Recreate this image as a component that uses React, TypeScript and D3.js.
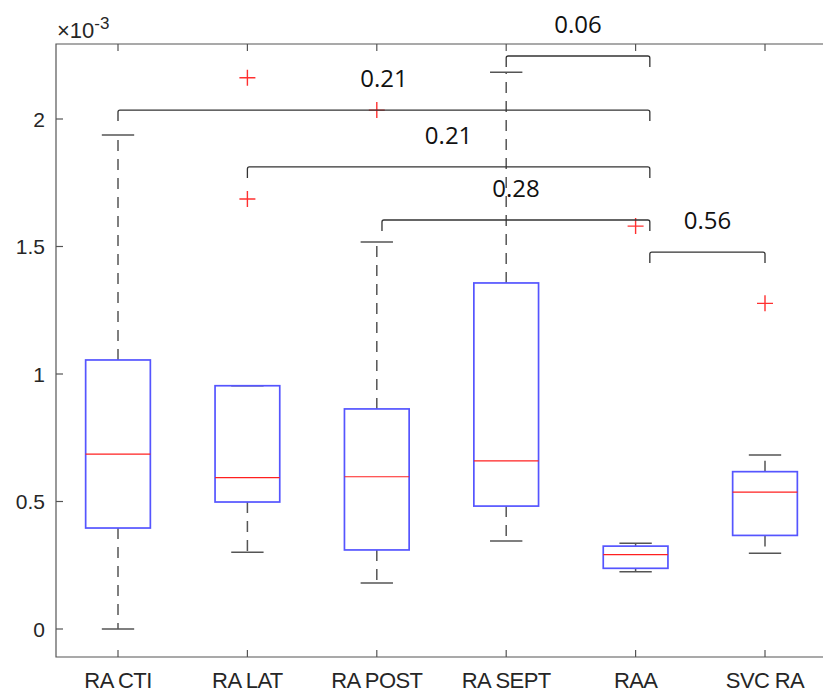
import React, { useEffect, useRef } from 'react';
import * as d3 from 'd3';

// box plot summary per group, values in units of 1e-3
const categories = ['RA CTI', 'RA LAT', 'RA POST', 'RA SEPT', 'RAA', 'SVC RA'];
const whiskerLow = [0.0, 0.301, 0.18, 0.345, 0.225, 0.297];
const q1 = [0.396, 0.498, 0.31, 0.482, 0.238, 0.367];
const medians = [0.686, 0.594, 0.597, 0.659, 0.292, 0.537];
const q3 = [1.055, 0.954, 0.863, 1.357, 0.325, 0.617];
const whiskerHigh = [1.937, 0.954, 1.518, 2.183, 0.336, 0.682];
const outliers: number[][] = [[], [2.162, 1.686], [2.035], [], [1.58], [1.277]];

// significance brackets (positions on the category axis) and p-values
const bracketFrom = [4, 1, 2, 3.04, 5.11];
const bracketTo = [5.11, 5.11, 5.11, 5.11, 6];
const bracketLevel = [2.247, 2.035, 1.812, 1.604, 1.478];
const bracketLabel = ['0.06', '0.21', '0.21', '0.28', '0.56'];

const yTicks = [0, 0.5, 1, 1.5, 2];

export default function App() {
    const ref = useRef<SVGSVGElement>(null);

    useEffect(() => {
        const svg = d3.select(ref.current);
        svg.selectAll('*').remove();

        const x = d3.scaleLinear().domain([1, 6]).range([118, 765]);
        const y = d3.scaleLinear().domain([0, 2]).range([629, 119]);
        const left = 56, top = 44, bottom = 657, right = 830;
        const axisColor = '#555';
        const font = 'Liberation Sans, Arial, sans-serif';

        // axes box
        svg.append('path')
            .attr('d', `M${right},${top}H${left}V${bottom}H${right}`)
            .attr('fill', 'none')
            .attr('stroke', axisColor)
            .attr('stroke-width', 1.2);

        // y ticks + labels
        const yt = svg.append('g');
        yTicks.forEach(t => {
            yt.append('line')
                .attr('x1', left).attr('x2', left + 7)
                .attr('y1', y(t)).attr('y2', y(t))
                .attr('stroke', axisColor).attr('stroke-width', 1.2);
            yt.append('text')
                .attr('x', left - 11).attr('y', y(t))
                .attr('dy', '0.36em')
                .attr('text-anchor', 'end')
                .attr('font-family', font)
                .attr('font-size', 21)
                .attr('fill', '#262626')
                .text(String(t));
        });

        // exponent label
        const ex = svg.append('text')
            .attr('x', left + 1).attr('y', 38)
            .attr('font-family', font)
            .attr('font-size', 22)
            .attr('fill', '#262626');
        ex.append('tspan').text('\u00d710');
        ex.append('tspan').attr('dy', -9).attr('font-size', 17).text('-3');

        // x ticks + labels
        categories.forEach((c, i) => {
            const cx = x(i + 1);
            svg.append('line')
                .attr('x1', cx).attr('x2', cx)
                .attr('y1', bottom).attr('y2', bottom - 7)
                .attr('stroke', axisColor).attr('stroke-width', 1.2);
            svg.append('line')
                .attr('x1', cx).attr('x2', cx)
                .attr('y1', top).attr('y2', top + 7)
                .attr('stroke', axisColor).attr('stroke-width', 1.2);
            svg.append('text')
                .attr('x', cx).attr('y', 688)
                .attr('text-anchor', 'middle')
                .attr('font-family', font)
                .attr('font-size', 22)
                .attr('letter-spacing', -0.6)
                .attr('fill', '#262626')
                .text(c);
        });

        // boxes
        const halfBox = 0.25, halfCap = 0.125;
        categories.forEach((_, i) => {
            const pos = i + 1;
            const g = svg.append('g');
            const whisk = '#555';
            // whiskers (dashed)
            g.append('line')
                .attr('x1', x(pos)).attr('x2', x(pos))
                .attr('y1', y(q3[i])).attr('y2', y(whiskerHigh[i]))
                .attr('stroke', whisk).attr('stroke-width', 1.5)
                .attr('stroke-dasharray', '11,8');
            g.append('line')
                .attr('x1', x(pos)).attr('x2', x(pos))
                .attr('y1', y(q1[i])).attr('y2', y(whiskerLow[i]))
                .attr('stroke', whisk).attr('stroke-width', 1.5)
                .attr('stroke-dasharray', '11,8');
            // caps
            [whiskerHigh[i], whiskerLow[i]].forEach(v => {
                g.append('line')
                    .attr('x1', x(pos - halfCap)).attr('x2', x(pos + halfCap))
                    .attr('y1', y(v)).attr('y2', y(v))
                    .attr('stroke', whisk).attr('stroke-width', 1.5);
            });
            // box
            g.append('rect')
                .attr('x', x(pos - halfBox))
                .attr('y', y(q3[i]))
                .attr('width', x(pos + halfBox) - x(pos - halfBox))
                .attr('height', y(q1[i]) - y(q3[i]))
                .attr('fill', 'none')
                .attr('stroke', '#5555ff')
                .attr('stroke-width', 1.7);
            // median
            g.append('line')
                .attr('x1', x(pos - halfBox)).attr('x2', x(pos + halfBox))
                .attr('y1', y(medians[i])).attr('y2', y(medians[i]))
                .attr('stroke', '#ff2020').attr('stroke-width', 1.2);
            // outliers
            outliers[i].forEach(v => {
                g.append('path')
                    .attr('d', `M${x(pos) - 8},${y(v)}h16M${x(pos)},${y(v) - 8}v16`)
                    .attr('stroke', '#ff3030')
                    .attr('stroke-width', 1.4)
                    .attr('fill', 'none');
            });
        });

        // significance brackets
        bracketLabel.forEach((lab, i) => {
            const x1 = x(bracketFrom[i]), x2 = x(bracketTo[i]);
            const by = y(bracketLevel[i]);
            svg.append('path')
                .attr('d', `M${x1},${by + 11}V${by + 2}Q${x1},${by} ${x1 + 2},${by}H${x2 - 2}Q${x2},${by} ${x2},${by + 2}V${by + 11}`)
                .attr('fill', 'none')
                .attr('stroke', '#333')
                .attr('stroke-width', 1.3);
            svg.append('text')
                .attr('x', (x1 + x2) / 2).attr('y', by - 23)
                .attr('text-anchor', 'middle')
                .attr('font-family', 'Open Sans, Noto Sans, sans-serif')
                .attr('font-size', 24)
                .attr('fill', '#111')
                .text(lab);
        });
    }, []);

    return (
        <div style={{ position: 'absolute', left: 0, top: 0 }}>
            <svg ref={ref} width={823} height={693} style={{ display: 'block', background: '#fff' }} />
        </div>
    );
}
